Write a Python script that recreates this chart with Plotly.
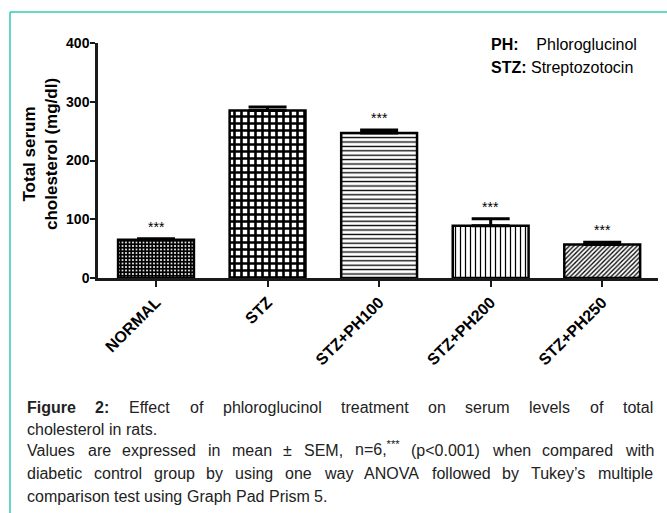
import plotly.graph_objects as go

# ---------------- data ----------------
categories = ["NORMAL", "STZ", "STZ+PH100", "STZ+PH200", "STZ+PH250"]
means = [65, 285, 247, 89, 57]
sems = [2, 6, 5, 12, 4]
significance = ["***", "", "***", "***", "***"]
y_ticks = [0, 100, 200, 300, 400]

legend_lines = [("PH:", "\u00a0\u00a0\u00a0 Phloroglucinol"), ("STZ:", " Streptozotocin")]

caption_lines = [
    ("Figure 2: Effect of phloroglucinol treatment on serum levels of total", True),
    ("cholesterol in rats.", False),
    ("Values are expressed in mean \u00b1 SEM, n=6,*** (p<0.001) when compared with", True),
    ("diabetic control group by using one way ANOVA followed by Tukey\u2019s multiple", True),
    ("comparison test using Graph Pad Prism 5.", False),
]
bold_words = {"Figure", "2:"}

# ---------------- layout helpers ----------------
W, H = 667, 513
L, R, T, B = 98, 9, 43, 235
PW = W - L - R
PH = H - T - B
FONT = "Arial, Liberation Sans, sans-serif"
TEAL = "#35cbb2"


def px_x(px):
    return (px - L) / PW


def px_y(py):
    return (H - B - py) / PH


# Arial / Liberation Sans advance widths (per 1000 em)
REG = {" ": 278, "!": 278, "(": 333, ")": 333, "*": 389, "+": 584, ",": 278, "-": 333,
       ".": 278, "/": 278, ":": 278, "<": 584, "=": 584, ">": 584, "\u00b1": 584,
       "\u2019": 222, "'": 191}
for d in "0123456789":
    REG[d] = 556
REG.update(dict(zip("ABCDEFGHIJKLMNOPQRSTUVWXYZ",
                    [667, 667, 722, 722, 667, 611, 778, 722, 278, 500, 667, 556, 833,
                     722, 778, 667, 778, 722, 667, 611, 722, 667, 944, 667, 667, 611])))
REG.update(dict(zip("abcdefghijklmnopqrstuvwxyz",
                    [556, 556, 500, 556, 556, 278, 556, 556, 222, 222, 500, 222, 833,
                     556, 556, 556, 556, 333, 500, 278, 556, 500, 722, 500, 500, 500])))
BOLD = dict(REG)
BOLD.update({"F": 611, "i": 278, "g": 611, "u": 611, "r": 389, "e": 556, ":": 333})


def word_width(word, size, bold=False):
    table = BOLD if bold else REG
    if word.endswith("***") and word != "***":
        base = word[:-3]
        return sum(table.get(c, 556) for c in base) * size / 1000 + 3 * 389 * size * 0.7 / 1000
    return sum(table.get(c, 556) for c in word) * size / 1000


def word_markup(word):
    if word in bold_words:
        return "<b>" + word + "</b>"
    if word.endswith("***") and word != "***":
        return word[:-3] + "<sup>***</sup>"
    return word


# ---------------- figure ----------------
fig = go.Figure()
fig.add_trace(go.Bar(
    x=categories,
    y=means,
    width=0.68,
    marker=dict(
        color="white",
        line=dict(color="black", width=2.5),
        pattern=dict(
            shape=["+", "+", "-", "|", "/"],
            size=[3.5, 7, 4.4, 5.0, 3.2],
            solidity=[0.8, 0.6, 0.3, 0.25, 0.4],
            fgcolor="black",
            bgcolor="white",
            fillmode="replace",
        ),
    ),
    error_y=dict(type="data", symmetric=False, array=sems, arrayminus=[0] * len(sems),
                 color="black", thickness=3, width=19),
    showlegend=False,
))

annotations = []
for cat, m, s, sig in zip(categories, means, sems, significance):
    if sig:
        annotations.append(dict(x=cat, y=m + s, xref="x", yref="y", text=sig, showarrow=False,
                                yanchor="bottom", yshift=2, font=dict(family=FONT, size=14, color="black")))

# y-axis title
annotations.append(dict(x=px_x(40), y=px_y(154), xref="paper", yref="paper",
                        text="<b>Total serum<br>cholesterol (mg/dl)</b>", textangle=-90,
                        showarrow=False, xanchor="center", yanchor="middle",
                        font=dict(family=FONT, size=17, color="black")))

# legend-like text
for i, (key, val) in enumerate(legend_lines):
    annotations.append(dict(x=px_x(489), y=px_y(44 + 23 * i), xref="paper", yref="paper",
                            text="<b>" + key + "</b>" + val, showarrow=False,
                            xanchor="left", yanchor="middle",
                            font=dict(family=FONT, size=16, color="black")))

# caption (justified where needed)
CAP_SIZE = 16
x_left, x_right = 26, 652
line_y = [407, 429, 451, 473, 496]
for (text, justify), yy in zip(caption_lines, line_y):
    words = text.split(" ")
    widths = [word_width(w, CAP_SIZE, w in bold_words) for w in words]
    if justify and len(words) > 1:
        gap = (x_right - x_left - sum(widths)) / (len(words) - 1)
    else:
        gap = REG[" "] * CAP_SIZE / 1000
    xx = x_left
    for w, ww in zip(words, widths):
        markup = word_markup(w)
        annotations.append(dict(x=px_x(xx), y=px_y(yy), xref="paper", yref="paper",
                                text=markup, showarrow=False, xanchor="left",
                                yanchor="middle", borderpad=0,
                                yshift=3 if "<sup>" in markup else 0,
                                font=dict(family=FONT, size=CAP_SIZE, color="#222222")))
        xx += ww + gap

shapes = [
    dict(type="line", xref="paper", yref="paper", x0=px_x(10), x1=px_x(668),
         y0=px_y(12), y1=px_y(12), line=dict(color=TEAL, width=1.5)),
    dict(type="line", xref="paper", yref="paper", x0=px_x(10), x1=px_x(10),
         y0=px_y(12), y1=px_y(514), line=dict(color=TEAL, width=1.5)),
]

fig.update_layout(
    width=W, height=H,
    margin=dict(l=L, r=R, t=T, b=B, autoexpand=False),
    paper_bgcolor="white", plot_bgcolor="white",
    annotations=annotations, shapes=shapes,
    bargap=0.3,
    xaxis=dict(type="category", range=[-0.52, 4.5], showline=True, linecolor="#1a1a1a", linewidth=2.5,
               ticks="outside", ticklen=6, tickwidth=2, tickcolor="#1a1a1a", tickangle=-45,
               tickfont=dict(family=FONT, size=16, color="black", weight="bold"),
               showgrid=False, zeroline=False),
    yaxis=dict(range=[0, 400], tickvals=y_ticks, showline=True, linecolor="#1a1a1a", linewidth=2.5,
               ticks="outside", ticklen=5, tickwidth=2, tickcolor="#1a1a1a",
               ticklabelstandoff=-2,
               tickfont=dict(family=FONT, size=14, color="black", weight="bold"),
               showgrid=False, zeroline=False),
    font=dict(family=FONT),
)

fig.write_html("out.html", config={"displayModeBar": False},
               post_script="document.body.style.margin='0';")
